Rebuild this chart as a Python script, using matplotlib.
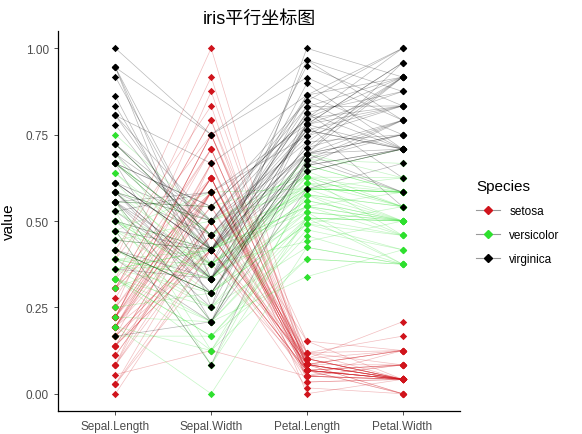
import matplotlib.pyplot as plt
import numpy as np
from matplotlib.lines import Line2D

plt.rcParams['font.family'] = ['Liberation Sans', 'Noto Sans CJK SC', 'DejaVu Sans']

# iris data (R datasets), rows in original order
sepal_length = [5.1,4.9,4.7,4.6,5.0,5.4,4.6,5.0,4.4,4.9,5.4,4.8,4.8,4.3,5.8,5.7,5.4,5.1,5.7,5.1,
                5.4,5.1,4.6,5.1,4.8,5.0,5.0,5.2,5.2,4.7,4.8,5.4,5.2,5.5,4.9,5.0,5.5,4.9,4.4,5.1,
                5.0,4.5,4.4,5.0,5.1,4.8,5.1,4.6,5.3,5.0,
                7.0,6.4,6.9,5.5,6.5,5.7,6.3,4.9,6.6,5.2,5.0,5.9,6.0,6.1,5.6,6.7,5.6,5.8,6.2,5.6,
                5.9,6.1,6.3,6.1,6.4,6.6,6.8,6.7,6.0,5.7,5.5,5.5,5.8,6.0,5.4,6.0,6.7,6.3,5.6,5.5,
                5.5,6.1,5.8,5.0,5.6,5.7,5.7,6.2,5.1,5.7,
                6.3,5.8,7.1,6.3,6.5,7.6,4.9,7.3,6.7,7.2,6.5,6.4,6.8,5.7,5.8,6.4,6.5,7.7,7.7,6.0,
                6.9,5.6,7.7,6.3,6.7,7.2,6.2,6.1,6.4,7.2,7.4,7.9,6.4,6.3,6.1,7.7,6.3,6.4,6.0,6.9,
                6.7,6.9,5.8,6.8,6.7,6.7,6.3,6.5,6.2,5.9]
sepal_width = [3.5,3.0,3.2,3.1,3.6,3.9,3.4,3.4,2.9,3.1,3.7,3.4,3.0,3.0,4.0,4.4,3.9,3.5,3.8,3.8,
               3.4,3.7,3.6,3.3,3.4,3.0,3.4,3.5,3.4,3.2,3.1,3.4,4.1,4.2,3.1,3.2,3.5,3.6,3.0,3.4,
               3.5,2.3,3.2,3.5,3.8,3.0,3.8,3.2,3.7,3.3,
               3.2,3.2,3.1,2.3,2.8,2.8,3.3,2.4,2.9,2.7,2.0,3.0,2.2,2.9,2.9,3.1,3.0,2.7,2.2,2.5,
               3.2,2.8,2.5,2.8,2.9,3.0,2.8,3.0,2.9,2.6,2.4,2.4,2.7,2.7,3.0,3.4,3.1,2.3,3.0,2.5,
               2.6,3.0,2.6,2.3,2.7,3.0,2.9,2.9,2.5,2.8,
               3.3,2.7,3.0,2.9,3.0,3.0,2.5,2.9,2.5,3.6,3.2,2.7,3.0,2.5,2.8,3.2,3.0,3.8,2.6,2.2,
               3.2,2.8,2.8,2.7,3.3,3.2,2.8,3.0,2.8,3.0,2.8,3.8,2.8,2.8,2.6,3.0,3.4,3.1,3.0,3.1,
               3.1,3.1,2.7,3.2,3.3,3.0,2.5,3.0,3.4,3.0]
petal_length = [1.4,1.4,1.3,1.5,1.4,1.7,1.4,1.5,1.4,1.5,1.5,1.6,1.4,1.1,1.2,1.5,1.3,1.4,1.7,1.5,
                1.7,1.5,1.0,1.7,1.9,1.6,1.6,1.5,1.4,1.6,1.6,1.5,1.5,1.4,1.5,1.2,1.3,1.4,1.3,1.5,
                1.3,1.3,1.3,1.6,1.9,1.4,1.6,1.4,1.5,1.4,
                4.7,4.5,4.9,4.0,4.6,4.5,4.7,3.3,4.6,3.9,3.5,4.2,4.0,4.7,3.6,4.4,4.5,4.1,4.5,3.9,
                4.8,4.0,4.9,4.7,4.3,4.4,4.8,5.0,4.5,3.5,3.8,3.7,3.9,5.1,4.5,4.5,4.7,4.4,4.1,4.0,
                4.4,4.6,4.0,3.3,4.2,4.2,4.2,4.3,3.0,4.1,
                6.0,5.1,5.9,5.6,5.8,6.6,4.5,6.3,5.8,6.1,5.1,5.3,5.5,5.0,5.1,5.3,5.5,6.7,6.9,5.0,
                5.7,4.9,6.7,4.9,5.7,6.0,4.8,4.9,5.6,5.8,6.1,6.4,5.6,5.1,5.6,6.1,5.6,5.5,4.8,5.4,
                5.6,5.1,5.1,5.9,5.7,5.2,5.0,5.2,5.4,5.1]
petal_width = [0.2,0.2,0.2,0.2,0.2,0.4,0.3,0.2,0.2,0.1,0.2,0.2,0.1,0.1,0.2,0.4,0.4,0.3,0.3,0.3,
               0.2,0.4,0.2,0.5,0.2,0.2,0.4,0.2,0.2,0.2,0.2,0.4,0.1,0.2,0.2,0.2,0.2,0.1,0.2,0.2,
               0.3,0.3,0.2,0.6,0.4,0.3,0.2,0.2,0.2,0.2,
               1.4,1.5,1.5,1.3,1.5,1.3,1.6,1.0,1.3,1.4,1.0,1.5,1.0,1.4,1.3,1.4,1.5,1.0,1.5,1.1,
               1.8,1.3,1.5,1.2,1.3,1.4,1.4,1.7,1.5,1.0,1.1,1.0,1.2,1.6,1.5,1.6,1.5,1.3,1.3,1.3,
               1.2,1.4,1.2,1.0,1.3,1.2,1.3,1.3,1.1,1.3,
               2.5,1.9,2.1,1.8,2.2,2.1,1.7,1.8,1.8,2.5,2.0,1.9,2.1,2.0,2.4,2.3,1.8,2.2,2.3,1.5,
               2.3,2.0,2.0,1.8,2.1,1.8,1.8,1.8,2.1,1.6,1.9,2.0,2.2,1.5,1.4,2.3,2.4,1.8,1.8,2.1,
               2.4,2.3,1.9,2.3,2.5,2.3,1.9,2.0,2.3,1.8]
species = ['setosa'] * 50 + ['versicolor'] * 50 + ['virginica'] * 50

variables = ['Sepal.Length', 'Sepal.Width', 'Petal.Length', 'Petal.Width']
species_names = ['setosa', 'versicolor', 'virginica']
colors = {'setosa': '#D0141C', 'versicolor': '#2EE02E', 'virginica': '#000000'}

# ggparcoord default scaling: each column to [0, 1]
raw = np.array([sepal_length, sepal_width, petal_length, petal_width]).T
scaled = (raw - raw.min(axis=0)) / (raw.max(axis=0) - raw.min(axis=0))

fig = plt.figure(figsize=(5.82, 4.35), dpi=100)
ax = fig.add_axes([0.0997, 0.0529, 0.6906, 0.8735])

xs = np.arange(len(variables))
for i in range(len(species)):
    ax.plot(xs, scaled[i], color=colors[species[i]], lw=0.5, alpha=0.28, zorder=1)
for i in range(len(species)):
    ax.scatter(xs, scaled[i], color=colors[species[i]], marker='D', s=14,
               linewidths=0, zorder=2)

ax.set_xlim(-0.6, 3.6)
ax.set_ylim(-0.05, 1.05)
ax.set_xticks(xs)
ax.set_xticklabels(variables)
ax.set_yticks([0, 0.25, 0.5, 0.75, 1.0])
ax.set_yticklabels(['0.00', '0.25', '0.50', '0.75', '1.00'])
ax.tick_params(colors='#333333', labelcolor='#4D4D4D', labelsize=8.5, length=3, width=0.6)
for s in ['top', 'right']:
    ax.spines[s].set_visible(False)
for s in ['left', 'bottom']:
    ax.spines[s].set_linewidth(0.9)
ax.set_ylabel('value', fontsize=11)
ax.yaxis.set_label_coords(-0.105, 0.5)
ax.set_title('iris平行坐标图', fontsize=13, pad=6)

handles = [Line2D([0], [0], color='#999999', lw=0.8, marker='D', ms=3.8,
                  markerfacecolor=colors[sp], markeredgecolor=colors[sp]) for sp in species_names]
fig.legend(handles, species_names, title='Species', loc='upper left',
           bbox_to_anchor=(0.80, 0.61), frameon=False, fontsize=8.5,
           title_fontsize=11, handlelength=2.0, labelspacing=1.0, alignment='left')

fig.savefig('out.png', dpi=100)
